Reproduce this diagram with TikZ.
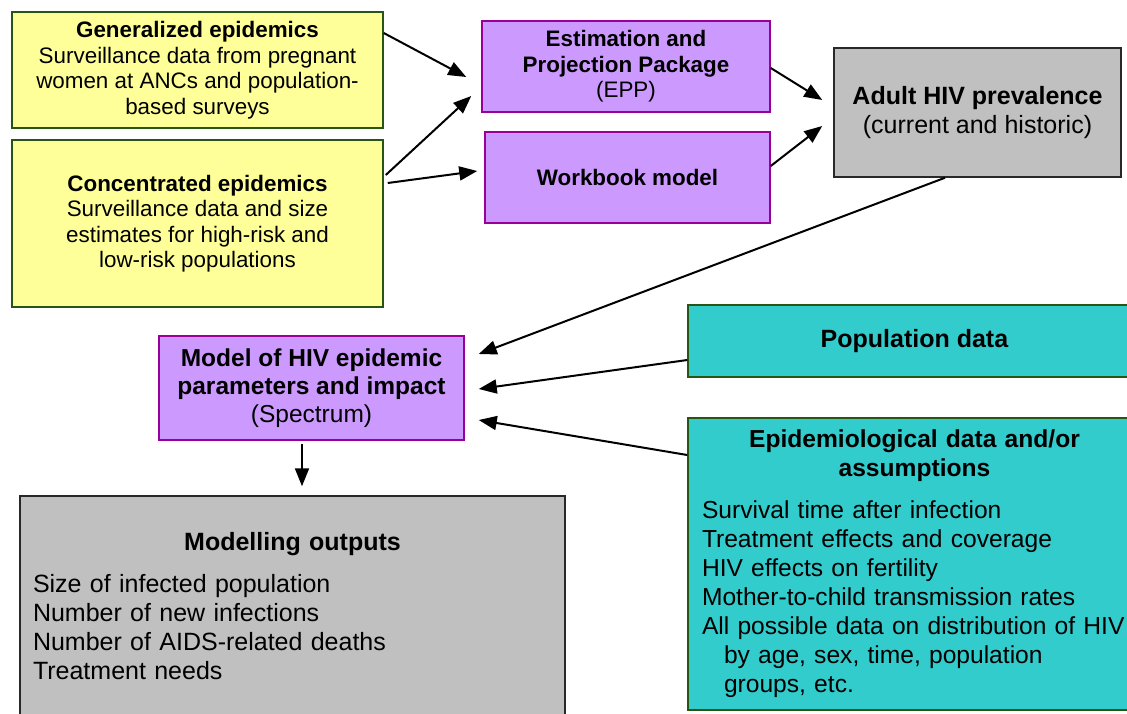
\documentclass[tikz,border=0pt]{standalone}
\usepackage{fontspec}
\setmainfont{Liberation Sans}
\usetikzlibrary{arrows.meta}
\definecolor{yellowfill}{RGB}{255,255,153}
\definecolor{purplefill}{RGB}{204,153,255}
\definecolor{grayfill}{RGB}{192,192,192}
\definecolor{tealfill}{RGB}{51,204,204}
\definecolor{greenline}{RGB}{40,85,20}
\definecolor{purpleline}{RGB}{153,0,153}
\definecolor{grayline}{RGB}{40,40,40}

\begin{document}
\begin{tikzpicture}[x=1pt,y=-1pt,
    basebox/.style={draw, line width=1.5pt, inner sep=0pt, align=center},
    smallfont/.style={font=\fontsize{22.4}{25.5}\selectfont},
    bigfont/.style={font=\fontsize{25}{28.5}\selectfont},
    yellowbox/.style={basebox, smallfont, fill=yellowfill, draw=greenline, minimum width=371pt},
    purplebox/.style={basebox, smallfont, fill=purplefill, draw=purpleline},
    graybox/.style={basebox, bigfont, fill=grayfill, draw=grayline},
    tealbox/.style={basebox, bigfont, fill=tealfill, draw=greenline, minimum width=453pt},
    arr/.style={->, line width=2pt, >={Triangle[length=18pt,width=14pt]}}]
            \useasboundingbox (0,0) rectangle (1127,713);
            \node[yellowbox, minimum height=116pt] (gen) at (197.5,70) {\textbf{Generalized epidemics}\\Surveillance data from pregnant\\women at ANCs and population-\\based surveys};
            \node[yellowbox, minimum height=167pt] (conc) at (197.5,223.5) {\textbf{Concentrated epidemics}\\Surveillance data and size\\estimates for high-risk and\\low-risk populations};
            \node[purplebox, minimum width=288pt, minimum height=91pt] (epp) at (626,66.5) {\textbf{Estimation and}\\\textbf{Projection Package}\\(EPP)};
            \node[purplebox, minimum width=285pt, minimum height=91pt] (work) at (627.5,177.5) {\textbf{Workbook model}};
            \node[graybox, minimum width=287pt, minimum height=129pt] (adult) at (977.5,112.5) {\textbf{Adult HIV prevalence}\\(current and historic)};
            \node[purplebox, font=\fontsize{24.5}{28}\selectfont, minimum width=305pt, minimum height=104pt] (model) at (311.5,388) {\textbf{Model of HIV epidemic}\\\textbf{parameters and impact}\\(Spectrum)};
            \node[tealbox, minimum height=72pt] (pop) at (914.5,341) {\textbf{Population data}};
            \node[tealbox, font=\fontsize{24.6}{29}\selectfont, minimum height=292pt, text width=425pt, align=left] (epi) at (914.5,564) {\makebox[\linewidth]{\textbf{Epidemiological data and/or}}\\\makebox[\linewidth]{\textbf{assumptions}}\\[13pt]Survival time after infection\\Treatment effects and coverage\\HIV effects on fertility\\Mother-to-child transmission rates\\\mbox{All possible data on distribution of HIV}\\\hspace*{22pt}by age, sex, time, population\\\hspace*{22pt}groups, etc.};
            \node[graybox, font=\fontsize{25}{29}\selectfont, minimum width=545pt, minimum height=220pt, text width=519pt, align=left] (out) at (292.5,606) {\makebox[\linewidth]{\textbf{Modelling outputs}}\\[13pt]Size of infected population\\Number of new infections\\Number of AIDS-related deaths\\Treatment needs};
            \draw[arr] ([yshift=37pt]gen.east) -- ([xshift=-15pt,yshift=-10.5pt]epp.west);
            \draw[arr] ([xshift=2pt,yshift=48.5pt]conc.east) -- ([xshift=-10pt,yshift=-29.5pt]epp.west);
            \draw[arr] ([xshift=4pt,yshift=40.5pt]conc.east) -- ([xshift=-7pt,yshift=6.5pt]work.west);
            \draw[arr] ([yshift=-1.5pt]epp.east) -- ([xshift=-11pt,yshift=12.5pt]adult.west);
            \draw[arr] ([yshift=11.5pt]work.east) -- ([xshift=-11pt,yshift=-13.5pt]adult.west);
            \draw[arr] ([xshift=-32.5pt]adult.south) -- ([xshift=14pt,yshift=34pt]model.east);
            \draw[arr] ([yshift=-19pt]pop.west) -- ([xshift=14pt,yshift=-1pt]model.east);
            \draw[arr] ([yshift=109pt]epi.west) -- ([xshift=14pt,yshift=-32pt]model.east);
            \draw[arr] ([xshift=-9.5pt,yshift=-3pt]model.south) -- ([xshift=9.5pt,yshift=9pt]out.north);
        \end{tikzpicture}
\end{document}
